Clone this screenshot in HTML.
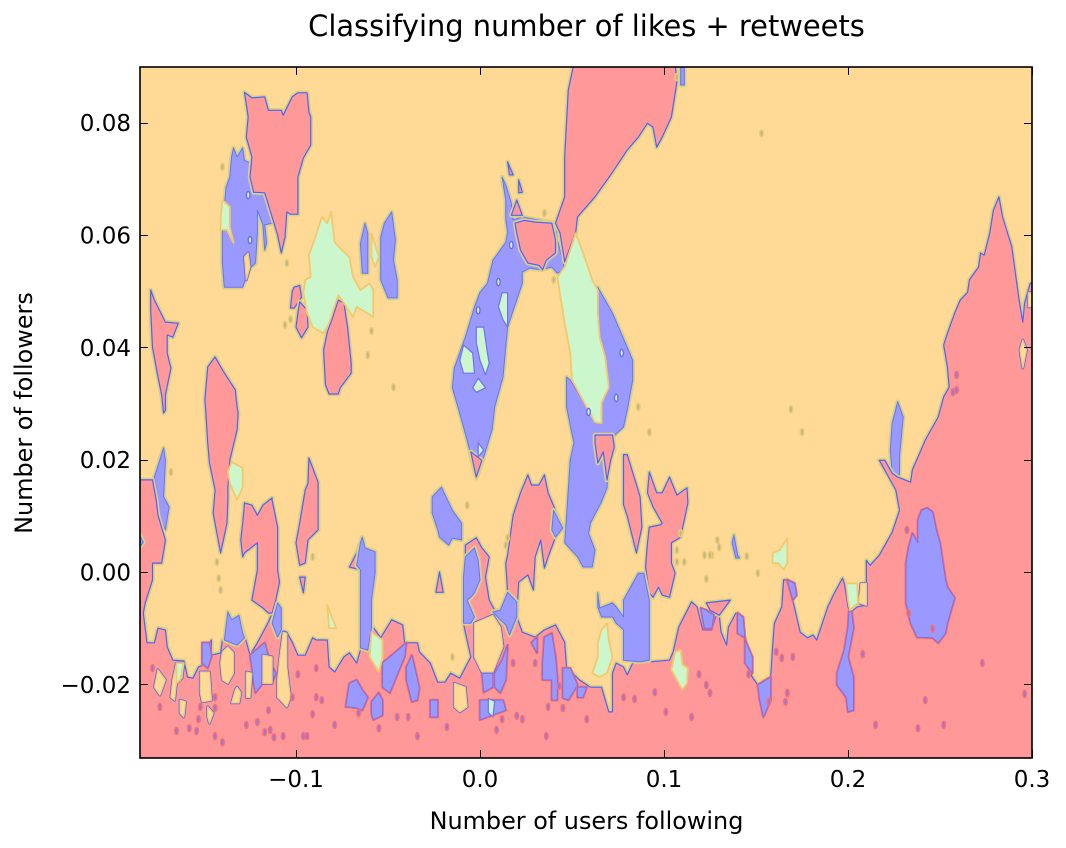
<!DOCTYPE html>
<html>
<head>
<meta charset="utf-8">
<title>Classifying number of likes + retweets</title>
<style>
html,body{margin:0;padding:0;background:#fff;width:1066px;height:848px;overflow:hidden}
svg{display:block}
text{font-family:"DejaVu Sans","Liberation Sans",sans-serif;fill:#000}
</style>
</head>
<body>
<svg id="chart" xmlns="http://www.w3.org/2000/svg" width="1066" height="848" viewBox="0 0 1066 848">
<defs><clipPath id="plot-clip"><rect x="140" y="67" width="892" height="691"/></clipPath></defs>
<rect x="0" y="0" width="1066" height="848" fill="#fff"/>
<rect x="140" y="67" width="892" height="691" fill="#FFD996"/>
<g id="marks" clip-path="url(#plot-clip)"></g>
<rect x="140" y="67" width="892" height="691" fill="none" stroke="#000" stroke-width="1.6"/>
<g id="axes"></g>
<text x="586.5" y="36" font-size="28.9" text-anchor="middle">Classifying number of likes + retweets</text>
<text x="586.5" y="829" font-size="23.9" text-anchor="middle">Number of users following</text>
<text x="0" y="0" font-size="23.9" text-anchor="middle" transform="translate(32,413) rotate(-90)">Number of followers</text>
</svg>
<script>
// Axis limits and ticks
const xLimits = [-0.1848, 0.3];
const yLimits = [-0.0331, 0.0899];
const xTickValues = [-0.1, 0, 0.1, 0.2, 0.3];
const xTickLabels = ["\u22120.1", "0.0", "0.1", "0.2", "0.3"];
const yTickValues = [-0.02, 0, 0.02, 0.04, 0.06, 0.08];
const yTickLabels = ["\u22120.02", "0.00", "0.02", "0.04", "0.06", "0.08"];

// Region outlines, flat x,y pairs in thousandths of the axis units
const blueBaseRegions = [
 [-135,73.9,-134,75.5,-132,73.9,-129,75.5,-128,73.3,-125,72.8,-125,70.3,-123,67.6,-117,67.5,-113,63.2,-113,62.1,-117,61.8,-116,58.6,-117,57.3,-118,61.8,-121,64.4,-121,60.3,-122,55,-125,54.1,-128,51.6,-129,50.7,-139,50.7,-140,55,-140,61.4,-138,68.5,-136,70.3],
 [-48,64.1,-46,59.1,-47,55.5,-45,52,-45,48.8,-50,48.8,-54,52,-54,59.6,-52,62.1],
 [-62.5,62.1,-61,60.3,-61,53.2,-64,53.2,-65,58.5],
 [12,70.3,14,68.9,17,65.7,18,62.7,23,63.2,41,62.1,42,59.1,45,55.5,46,53.8,42,53.2,39,54.3,33,53.8,27,54.1,23,53.4,23,51.4,15,43.6,12.5,34.7,8,29.4,6.5,25.3,1,19.4,-2,16.7,-7,23.5,-12,29.4,-15,32.8,-14,36.3,-8,41.8,-3,47.2,0,49.8,4,51.4,7,55.5,14,58.7,15,60.5,14,62.7,14,66.2],
 [64,50.7,72,46.1,80,40,83,37.7,83,34.2,80,28.8,78,25.8,72,24,73,21.7,70,19.9,69,15,66,12.5,60,8.7,59,6.9,62.5,3.9,61,.9,56,.9,53,2.7,46,5.2,47,9.8,49,19.9,51,23,47,29.4,47,34.7,49,34.2,58,29.4,62.5,26.7,66,26.5,66,30.1,70,32.9,68,38.3,65,41.8,64,46.1],
 [-21,15.1,-15,11,-10,8.7,-10,5.7,-15,6,-17,4.8,-22,6.2,-23,7.5,-26,10.5,-26,13.4],
 [-172,22.1,-177,16.9,-175,12.8,-175,10.1,-171,7.5,-169,11.6,-172,13.4,-171,19.9],
 [227,30.3,230,27.6,228,20.5,228,17.3,224,17.6,223,21.7,224,26.5]
];
const redRegions = [
 [-185,-33.1,-185,16.4,-178,16.4,-176,12.8,-175,10.1,-171,5.7,-173,1.6,-178,1.6,-178,-1.4,-182,-5.5,-183,-7.3,-181,-12.6,-177,-12.6,-175,-10,-171,-10.3,-170,-13.3,-167,-15.7,-161,-15.8,-159,-18.7,-156,-18.9,-153,-16.9,-151,-16.6,-148,-13.3,-146,-12.1,-146,-14.8,-141,-14.4,-140,-12.1,-137,-12.1,-137,-7.1,-135,-8.5,-131,-7.7,-130,-9.1,-128,-11.2,-125,-14.8,-121,-12.6,-115,-8.9,-113,-7.3,-110,-5.5,-108,-6.4,-108,-10.3,-105,-10.7,-102,-12.5,-99,-14.8,-95,-14.8,-91,-11.7,-89,-12.1,-83,-12.1,-82,-16.9,-79,-17.8,-74,-15.1,-71,-14.4,-67,-16.2,-65,-13.9,-65,.4,-71,.9,-67,3.4,-65,5.2,-64,6.2,-62.5,4.3,-57,3.6,-57,-.2,-59,-5,-59,-9.4,-54,-11.7,-48,-8.5,-42,-9.4,-41,-12.6,-34,-12.6,-33,-14.2,-27,-16.2,-23,-19.6,-19,-19.6,-16,-18,-11,-18.9,-5,-15.1,-8,-10.7,-9,-9.1,-9,-.9,-8,2.7,-8,4.8,-2,6.1,1,4.3,5,2.7,3,-.9,5,-5,8,-6.8,11,-6.8,15,-3.6,14,1.6,15,3,18,10.1,22,14.1,26,17.3,28,15.5,32,15.5,35,17.3,37,14.1,41,11,45,7.8,41,6.2,37,2.7,35,.7,33,5.7,30,2.7,29,-3.2,26,-.5,21,-1.8,20,-8,23,-10.7,30,-11.6,35,-10.3,41,-9.4,46,-12.5,47,-16.9,54,-19.2,60,-20.5,66,-20.5,70,-24.9,72,-24.9,72,-18,74,-16.2,78,-16.9,80,-18.3,83,-16.2,92,-16,103,-15.7,105,-14.2,108,-9.8,115,-5.3,118,-6.2,121,-10.3,126,-10.3,128,-8,130,-7.7,131,-10.7,134,-13,135,-9.8,139,-7.3,140,-7.3,140,-10.9,144,-11.7,144,-16.2,148,-18.7,151,-20.1,158,-18.7,159,-13.3,160,-9.1,164,-6.2,165,-1.4,167,-1.4,171,-6.4,174,-10.7,178,-11.7,181,-11.2,183,-12.1,189,-6.2,192,-4.1,197,-1.1,198,-2,200,-6.2,201,-7.3,205,-6.2,210,-5.9,210,2.1,212,1.2,217,3,224,7.1,228,11,226,14.6,217,19.9,220,19.9,224,17.6,227,16.9,234,16,235,18.2,239,21.2,242,23.5,249,27.6,252,31.2,255,32.9,254,36.5,252,40.4,254,42.5,258,46.1,261,48.4,265,49.8,266,52,271,54.3,272,56.8,274,56.4,277,60.3,279,64.4,282,66.8,284,63.2,289,57.9,291,53.2,293,48.4,295,44.5,296,47.9,299,51.4,302,51.4,302,-33.1],
 [-128,85.4,-124,84.4,-117,84.6,-115,82.2,-108,82.2,-107,81.3,-102,84.6,-99,85.3,-94,85.3,-93,81.9,-92,81,-92,76,-96,73.7,-99,70.3,-99,63.7,-103,63.7,-105,64.1,-106,59.6,-108,56.8,-110,60,-113,63.2,-117,67.5,-123,67.6,-125,70.3,-124,73.9,-127,77.4,-126,81],
 [-77,48.4,-74,47.9,-72,43.6,-70,37.2,-70,35.4,-76,32.8,-77,31.7,-82,31.7,-84,33.3,-85,39.5,-83,42.7,-80,45.4],
 [-101,50.7,-98,51,-97,48.9,-101,47,-103,47,-102,50],
 [-98,48.1,-94,46.6,-93.5,43.6,-97,41.7,-100,43.6,-99,46.1],
 [-179,50.2,-177,48.4,-171,44.5,-164,44.3,-167,41.8,-170,42.2,-170,39,-168,36.3,-171,31.5,-171,28.8,-172,28.3,-173,31.5,-175,34.7,-178,40,-179,46.6],
 [-144,38.3,-140,36,-133,32.4,-132,29.4,-131.5,28.3,-132,25.3,-136,19.9,-137,15.1,-137,12.8,-137.5,8.7,-141,3.4,-143,6.9,-145,10.5,-144,14.6,-147,19.4,-148,23,-149,28.3,-149.5,30.6,-148,36.5],
 [-128,12.3,-124,11.9,-121,10.1,-118,11.9,-113,13.2,-113,12.8,-110,8,-110,.4,-109,-1.8,-111,-5,-113,-7.3,-115,-7.3,-118,-6.4,-124,-5,-121,.4,-121,5.2,-128,3.4,-129,2.7,-130,5.7,-129,8.7],
 [-93,20.3,-88,16,-88,7.5,-93.5,5.7,-95,1.6,-98,1.2,-100,5.2,-98,8.7,-95,14.6,-93.5,15.8],
 [-98,-.9,-95,-.9,-96,-3.7],
 [-22,0,-20,-3.6,-24,-3.6],
 [51,90.5,106,90.5,107,87.2,104,81,99,77.4,96,75.6,94,79.2,91,79.9,86,77.4,80,75.1,71,70.7,62.5,66.8,53,63.2,52,60.5,46,55.2,43.5,60.3,41,62.1,46,66.8,46,73.9,47,79.9,48,85.8],
 [19,62.1,24,62.6,30,62.3,39,62.1,41,59.1,41,56.8,36,55.5,34,53.8,32,54.6,26,55,22,57.3,20,60.3],
 [20,66.2,23,63.5,17,63.5],
 [15,73,18,70.7,16,70.7],
 [21,69.8,23,67.6,21,67.5],
 [-5,21.4,1,19.9,-2,16.9],
 [62.5,24.4,72,24.4,73,22.3,71,19.9,69,16.4,67,21.4,64,19.4,62.5,23],
 [78,20.9,80,20.9,87,13.4,88,8,85,3.4,80,10,78,12],
 [92,8,91,5.2,90,.9,92,-3.7,94,-4.5,97,-2.7,99,-4.1,103,-4.5,106,-.2,104,1.6,104,5.2,109,6.2,113,12.3,112.5,15,107,13.7,103,16.9,99,14.1,96,14.1,92,17.8,91,14.1,94,11.6,99,8.7,98,8.4],
 [123,-5.5,136,-5,130,-7.7,125,-6.8]
];
const blueOverRegions = [
 [78,-15.7,78,-10.3,74,-9.1,72,-8,66,-8,64,-6.2,64,-3.7,65,-6.4,72,-5.5,74,-6.2,78,-8,78,-5,83,-2,86,-.2,89,-.2,92,-5,92,-15.7,87,-16],
 [-9,-9.1,-9,-.9,-8,2.7,-3,4.3,-1,2.1,0,-1.4,-3,-3.7,-5,-4.5,-7,-5,-3,-8,-5,-9.1],
 [-65,5.2,-64,6.2,-62.5,4.3,-57,3.6,-57,-.2,-59,-5,-59,-10,-61,-13.9,-65,-13.5,-65,-5,-65,.4,-67,1.2],
 [-137,-7.1,-135,-8.5,-131,-7.7,-129,-10.9,-128,-11.7,-132,-13,-136,-12.5,-139,-12.1],
 [-110,-5.5,-108,-6.4,-108,-10.3,-110,-11.6,-113,-9.1],
 [7,-7.1,11,-6.8,15,-3.6,20,-5.3,20,-8,16,-11.2,14,-9.4,11,-8.5],
 [138,6.6,140,3,141,2.5,139,2.5,137,5.2],
 [40,11,45,7.8,41,6.2,39,7.5],
 [-185,6.6,-183,5.3,-185,4.4],
 [109,90,111,90,111,86.7,109,86.7]
];
const blueOnRedRegions = [
 [-125,-14.8,-117,-12.6,-114,-16.2,-111,-18,-113,-19.8,-118,-19.8,-122,-21.5,-123,-19.8,-124,-16.9],
 [-151,-12.6,-147,-12.6,-146,-15.1,-148,-17.1,-151,-16.2],
 [-53,-16.2,-40,-12.6,-41,-15.1,-45,-18.3,-49,-21.5,-53,-20.5],
 [-37,-14.8,-33,-20.6,-34,-22.8,-37,-23.1,-40,-19.2,-40,-16.9],
 [-71,-19.8,-67,-19.2,-64,-21,-61,-22.3,-64,-24.6,-67,-24.2,-71,-24,-73,-24,-72,-21.9],
 [-59,-23.1,-55,-21.5,-53,-22.8,-53,-25.5,-58,-26.3,-59,-25.1],
 [15,-13,12,-15.7,8,-18,8,-20.5,11,-21.5,14,-19.2],
 [1,-18,7,-18,7,-20.5,2,-21.4],
 [0,-22.8,12.5,-22.8,14,-24.6,4,-25.8,0,-26.3],
 [-27,-22.8,-23,-22.8,-23,-25.8,-27,-25.8],
 [45,-17.1,49,-17.1,53,-20.1,48,-22.8,45,-22.4],
 [35,-11.6,39,-10.9,41,-15.1,42,-18.7,42,-22.8,39,-22.8,39,-19.2,34,-19.2,34,-16.2],
 [28,-12.6,31,-11.6,31,-14.4],
 [53,-20.5,58,-20.5,56,-22.3,53,-22.3],
 [243,11.4,246,10.7,248,7.5,250,5.2,253,-1.4,254,-2.7,258,-4.6,254,-9.1,253,-10.9,249,-12.6,246,-11.7,237.5,-11.6,234,-9.1,231.5,-5.5,231.5,1.6,233,4.4,235,6.9,238,5.2,238,9.3,240,11],
 [200.5,-7,202,-7,203,-10,200,-15.1,203,-18.7,203,-24.6,200,-24.9,199,-22.3,194,-20.1,194,-18,198,-13.9,200,-9.8],
 [167,-1.4,171,-2,172,-4.1,170,-5],
 [140,-7.3,140,-10.9,144,-11.7,144,-16.2,148,-18,148,-15.1,144,-12,143,-8],
 [151,-20.1,158,-18.7,158,-22.8,154,-25.8,152,-22.8],
 [120,-6.4,122,-10,126,-10,127,-7.7,123,-6.8]
];
const orangeIslands = [
 [-140,-14.2,-137,-13.3,-134,-14.4,-134,-18,-137,-19.8,-140,-19.2,-141,-16.2],
 [-152,-17.8,-147,-17.8,-146,-22.8,-151,-23.1,-152,-21.5],
 [-118,-14.8,-113,-15.1,-113,-19.8,-118,-19.8],
 [-107,-10.7,-105,-10.9,-105,-16.9,-104,-19.8,-103,-22.3,-105,-24,-110,-22.3,-110,-19.2,-109,-15.7],
 [-175,-17.4,-171,-19.2,-174,-21.9,-177,-20.5],
 [-165,-16.2,-161,-16.2,-162,-18.9,-165,-19.8,-166,-22.8,-168,-22.3,-167,-19.2],
 [-163,-22.8,-160,-23.1,-161,-25.8,-163,-25.1],
 [-132,-20.5,-130,-21.5,-131,-23.3,-135,-23.3,-133,-21],
 [-127,-17.8,-124,-18,-125,-22.3,-127,-22.3],
 [-148,-24,-145,-25.1,-147,-26.9,-148,-25.8],
 [-3,-9.1,7,-7.7,11,-9.8,12.5,-13.3,7,-17.8,1,-17.8,-3,-15.1],
 [-14,-19.8,-8,-20.5,-7,-24,-11,-24.9,-14,-24],
 [207,-2,210,-2,210,-5.9,206,-5.5],
 [298,49.7,301,49.7,301,47.2,298,47.2],
 [295,41.3,297,39.5,295,36.3,293.5,39.5],
 [-128,56.1,-126,56.8,-125,54.3,-127,52]
];
const greenOnOrangeRegions = [
 [-95,52,-92,52.5,-93,56.4,-90,59.1,-86,63.2,-83,62.1,-81,64.1,-79,58.7,-75,57.3,-71,56.1,-69,52.5,-65,50.2,-60,51.4,-58,50.2,-58,45.4,-67,47.2,-69,45.4,-74,47.9,-77,49.3,-82,44.3,-85,42.5,-91,43.6,-94,46.1,-96,49.7],
 [-140,66.2,-136,65,-136,61.4,-134,58.6,-137.5,60.9,-141,60.9,-141,63.2],
 [-59,60.3,-55,56.1,-57,54.3,-59,56.1],
 [-135,19.6,-129,18.5,-129,15.1,-132,12.8,-136,15.8,-137,17.8],
 [52,60.3,56,56.8,61,52,64,50.2,64,46.1,65,41.8,68,38.3,70,32.9,66,30.1,66,26.5,62.5,26.7,58,29.4,50,34.2,49,39,46,44.3,42,52.5,46,54.3],
 [66,-10.3,69,-9.1,70,-12.1,72,-15.1,69,-18,65,-18.7,61,-18,64,-15.1,64,-12.6],
 [106,-14.2,109,-13.9,110,-16.5,113,-17.1,112.5,-19.8,110,-21,107,-19.2,104,-17.4],
 [199,-2,205,-2,205.5,-5.5,201,-6.8,200,-5],
 [167,6,167,1.6,165,.4,162,1.6,159,1.6,159,3.4,163,3.9],
 [-83,-5.9,-80,-8.5,-78,-10,-82,-10],
 [-59,-10.7,-53,-12.1,-53,-15.3,-55,-17.8,-60,-15.1],
 [-165,-16.2,-161,-16.2,-163,-19.2,-165,-19.8]
];
const greenOnBlueRegions = [
 [-2,43.6,2,43.6,4,39,5,37.2,3,35.1,0,37.7,-2,40.8],
 [-9,40.4,-4,39,-3,35.4,-9,35.4,-11,37.7],
 [-1,34.5,3,32.8,-2,32,-4,32.8],
 [12,49.7,15,49.7,15,43.6,12.5,44.9,10,47.2],
 [-1,23,2,21.7,-1,20.5],
 [4.5,-22.5,8,-23,7,-25.8,4.5,-25]
];
const redSpecksX = [-178,-174,-165,-158,-154,-153,-152,-144,-144,-144,-140,-127,-121,-117,-114,-112,-107,-96,-94,-99,-102,-115,-91,-79,-89,-86,-89,-66,-55,-45,-39,-34,-18,9,36,58,78,84,95,101,115,119,125,45,23,20,12,18,30,43,37,170,164,161,157,166,167,208,215,238,242,252,273,296,123,146,232,246,233,259,257,259];
const redSpecksY = [-17.1,-24,-28.3,-27.8,-28.3,-26.2,-24,-22.3,-24.2,-29.2,-30.3,-27.2,-26.7,-28.5,-28.1,-29.4,-29.2,-29.2,-29.2,-18.2,-22.3,-24.6,-25.3,-27.2,-17.1,-22.8,-22.3,-25.1,-27.8,-25.8,-25.8,-29.2,-27.6,-28.1,-29.2,-26.2,-22.3,-22.6,-21.4,-24.9,-25.8,-18.2,-21.5,-24.2,-26.2,-25.6,-26.2,-16.2,-16.2,-20.3,-24,-15.1,-15.3,-14.2,-23.1,-23.1,-21.5,-14.6,-27.2,-27.8,-22.8,-27.2,-16.2,-21.7,-20.1,-18.2,7.5,-10.1,-7.3,35.1,32,32.4];
const orangeSpecksX = [-140,-105,-106,-103,-47,-61,-59,86,92,107,-143,-142,-141,-168,-91,-7,14,15,-15,107,111,107,109,122,126,129,123,153,169,175,151,145,130,125,35,40];
const orangeSpecksY = [72.1,55,44,45,32.9,38.6,42.9,29.4,24.9,88.1,1.8,-1.1,-3.2,17.8,2.7,11.9,4.8,6.1,-15.1,1.8,1.8,3.9,6.9,3,3,5.7,-1.2,78.1,29,24.9,-.2,2.8,4.4,3,63.9,52];
const blueSpecksX = [77,74,59,-1,10,17,-126,-125];
const blueSpecksY = [39,31,28.5,46.6,51.6,58.2,67.1,59.1];

const SVG_NS = "http://www.w3.org/2000/svg";
const marks = document.getElementById("marks");
const axes = document.getElementById("axes");

function xScale(v){ return 140 + (v - xLimits[0]) / (xLimits[1] - xLimits[0]) * 892; }
function yScale(v){ return 758 - (v - yLimits[0]) / (yLimits[1] - yLimits[0]) * 691; }

function outlinePath(flat){
  let d = "";
  for (let i = 0; i < flat.length; i += 2) {
    d += (i ? "L" : "M") + xScale(flat[i] / 1000).toFixed(1) + " " + yScale(flat[i + 1] / 1000).toFixed(1);
  }
  return d + "Z";
}

function strokeLayer(parent, d, fill, stroke, width){
  const p = document.createElementNS(SVG_NS, "path");
  p.setAttribute("d", d);
  p.setAttribute("fill", fill);
  p.setAttribute("stroke", stroke);
  p.setAttribute("stroke-width", width);
  p.setAttribute("stroke-linejoin", "round");
  parent.appendChild(p);
}

function drawRegions(list, layers, name){
  list.forEach(function(flat){
    const g = document.createElementNS(SVG_NS, "g");
    
    
    const d = outlinePath(flat);
    layers.forEach(function(l){ strokeLayer(g, d, l[0], l[1], l[2]); });
    marks.appendChild(g);
  });
}

function drawSpecks(xs, ys, fill, stroke, name){
  xs.forEach(function(x, i){
    const e = document.createElementNS(SVG_NS, "ellipse");
    
    
    e.setAttribute("cx", xScale(x / 1000));
    e.setAttribute("cy", yScale(ys[i] / 1000));
    e.setAttribute("rx", 1.8);
    e.setAttribute("ry", 3.6);
    e.setAttribute("fill", fill);
    e.setAttribute("stroke", stroke);
    e.setAttribute("stroke-width", 1.4);
    marks.appendChild(e);
  });
}

const ORANGE = "#FFD996", RED = "#FF9999", BLUE = "#9999FF", GREEN = "#CCF7CC";
const haloRed = [["none","#F3C96C",4.6],["none","#A6DFB4",2.6],[RED,"#5C5CEE",1.2]];
const haloBlue = [["none","#F3C96C",4.6],["none","#A6DFB4",2.6],[BLUE,"#7070F2",1]];
const ringRed = [[BLUE,"#FF6666",2.8],[BLUE,"#7070F2",.9]];
const islandOrange = [[ORANGE,"#5C5CEE",2.8],[ORANGE,"#E6CE7C",1.3]];
const greenEdge = [[GREEN,"#F3C96C",1.8]];
const greenBlueEdge = [[GREEN,"#7070F2",1.2]];

drawRegions(blueBaseRegions, haloBlue, "class-blue-region");
drawRegions(redRegions, haloRed, "class-red-region");
drawRegions(blueOverRegions, haloBlue, "class-blue-region");
drawRegions(blueOnRedRegions, ringRed, "class-blue-region-on-red");
drawRegions(orangeIslands, islandOrange, "class-orange-island");
drawRegions(greenOnOrangeRegions, greenEdge, "class-green-region");
drawRegions(greenOnBlueRegions, greenBlueEdge, "class-green-region");
drawSpecks(redSpecksX, redSpecksY, "#8A7CE8", "#FF6E6E", "blue-speck-on-red");
drawSpecks(orangeSpecksX, orangeSpecksY, "#A9BC9E", "#F3C96C", "speck-on-orange");
drawSpecks(blueSpecksX, blueSpecksY, GREEN, "#6C6CF0", "green-speck-on-blue");

function tickLine(x1, y1, x2, y2, name){
  const l = document.createElementNS(SVG_NS, "line");
  
  
  l.setAttribute("x1", x1);
  l.setAttribute("y1", y1);
  l.setAttribute("x2", x2);
  l.setAttribute("y2", y2);
  l.setAttribute("stroke", "#000");
  l.setAttribute("stroke-width", 1);
  axes.appendChild(l);
}

function tickText(x, y, s, anchor, name){
  const t = document.createElementNS(SVG_NS, "text");
  
  
  t.setAttribute("x", x);
  t.setAttribute("y", y);
  t.setAttribute("font-size", 23);
  t.setAttribute("text-anchor", anchor);
  t.textContent = s;
  axes.appendChild(t);
}

xTickValues.forEach(function(v, i){
  const x = Math.round(xScale(v)) + 0.5;
  tickLine(x, 758, x, 750, "x-tick-mark");
  tickLine(x, 67, x, 75, "x-tick-mark-top");
  tickText(xScale(v), 787, xTickLabels[i], "middle", "x-tick-label");
});
yTickValues.forEach(function(v, i){
  const y = Math.round(yScale(v)) + 0.5;
  tickLine(140, y, 148, y, "y-tick-mark");
  tickLine(1032, y, 1024, y, "y-tick-mark-right");
  tickText(131, yScale(v) + 8.5, yTickLabels[i], "end", "y-tick-label");
});
</script>
</body>
</html>
